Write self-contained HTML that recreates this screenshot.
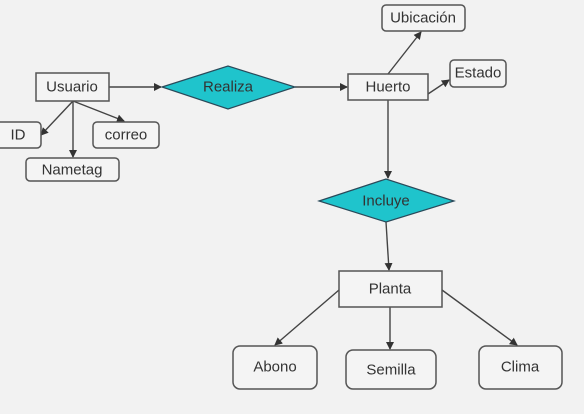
<!DOCTYPE html>
<html><head><meta charset="utf-8"><style>
html,body{margin:0;padding:0;background:#f2f2f2;}
svg{display:block;}
text{font-family:"Liberation Sans",sans-serif;font-size:15px;fill:#333;text-anchor:middle;dominant-baseline:central;}
.b{fill:#f4f4f4;stroke:#555;stroke-width:1.5;}
.d{fill:#1fc4cc;stroke:#2a4a5a;stroke-width:1.2;}
.l{stroke:#444;stroke-width:1.4;fill:none;marker-end:url(#a);}
</style></head><body>
<svg width="584" height="414" viewBox="0 0 584 414">
<defs><marker id="a" markerWidth="8" markerHeight="8" refX="7" refY="4" orient="auto" markerUnits="userSpaceOnUse"><path d="M0,0 L8,4 L0,8 Z" fill="#333"/></marker></defs>
<rect x="0" y="0" width="584" height="414" fill="#f2f2f2"/>
<line class="l" x1="109" y1="87" x2="161" y2="87"/>
<line class="l" x1="295" y1="87" x2="347" y2="87"/>
<line class="l" x1="388" y1="74" x2="421" y2="32"/>
<line class="l" x1="428" y1="94" x2="449" y2="80"/>
<line class="l" x1="388" y1="100" x2="388" y2="178"/>
<line class="l" x1="386" y1="222" x2="389" y2="270"/>
<line class="l" x1="339" y1="290" x2="275" y2="345"/>
<line class="l" x1="390" y1="307" x2="390" y2="349"/>
<line class="l" x1="442" y1="290" x2="517" y2="345"/>
<line class="l" x1="73" y1="101" x2="41" y2="135"/>
<line class="l" x1="73" y1="101" x2="73" y2="157"/>
<line class="l" x1="73" y1="101" x2="124" y2="121"/>
<rect class="b" x="36" y="73" width="73" height="28"/><text x="72" y="87">Usuario</text>
<polygon class="d" points="162,87 228,66 295,87 228,109"/><text x="228" y="87">Realiza</text>
<rect class="b" x="348" y="74" width="80" height="26"/><text x="388" y="87">Huerto</text>
<rect class="b" x="382" y="5" width="83" height="26" rx="4"/><text x="423" y="18">Ubicación</text>
<rect class="b" x="450" y="60" width="56" height="27" rx="4"/><text x="478" y="73">Estado</text>
<rect class="b" x="-6" y="122" width="47" height="26" rx="4"/><text x="18" y="135">ID</text>
<rect class="b" x="93" y="122" width="66" height="26" rx="4"/><text x="126" y="135">correo</text>
<rect class="b" x="26" y="158" width="93" height="23" rx="4"/><text x="72" y="170">Nametag</text>
<polygon class="d" points="319,201 386,179 454,201 386,222"/><text x="386" y="201">Incluye</text>
<rect class="b" x="339" y="271" width="103" height="36"/><text x="390" y="289">Planta</text>
<rect class="b" x="233" y="346" width="84" height="43" rx="7"/><text x="275" y="367">Abono</text>
<rect class="b" x="346" y="350" width="90" height="39" rx="7"/><text x="391" y="370">Semilla</text>
<rect class="b" x="479" y="346" width="83" height="43" rx="7"/><text x="520" y="367">Clima</text>
</svg>
</body></html>
